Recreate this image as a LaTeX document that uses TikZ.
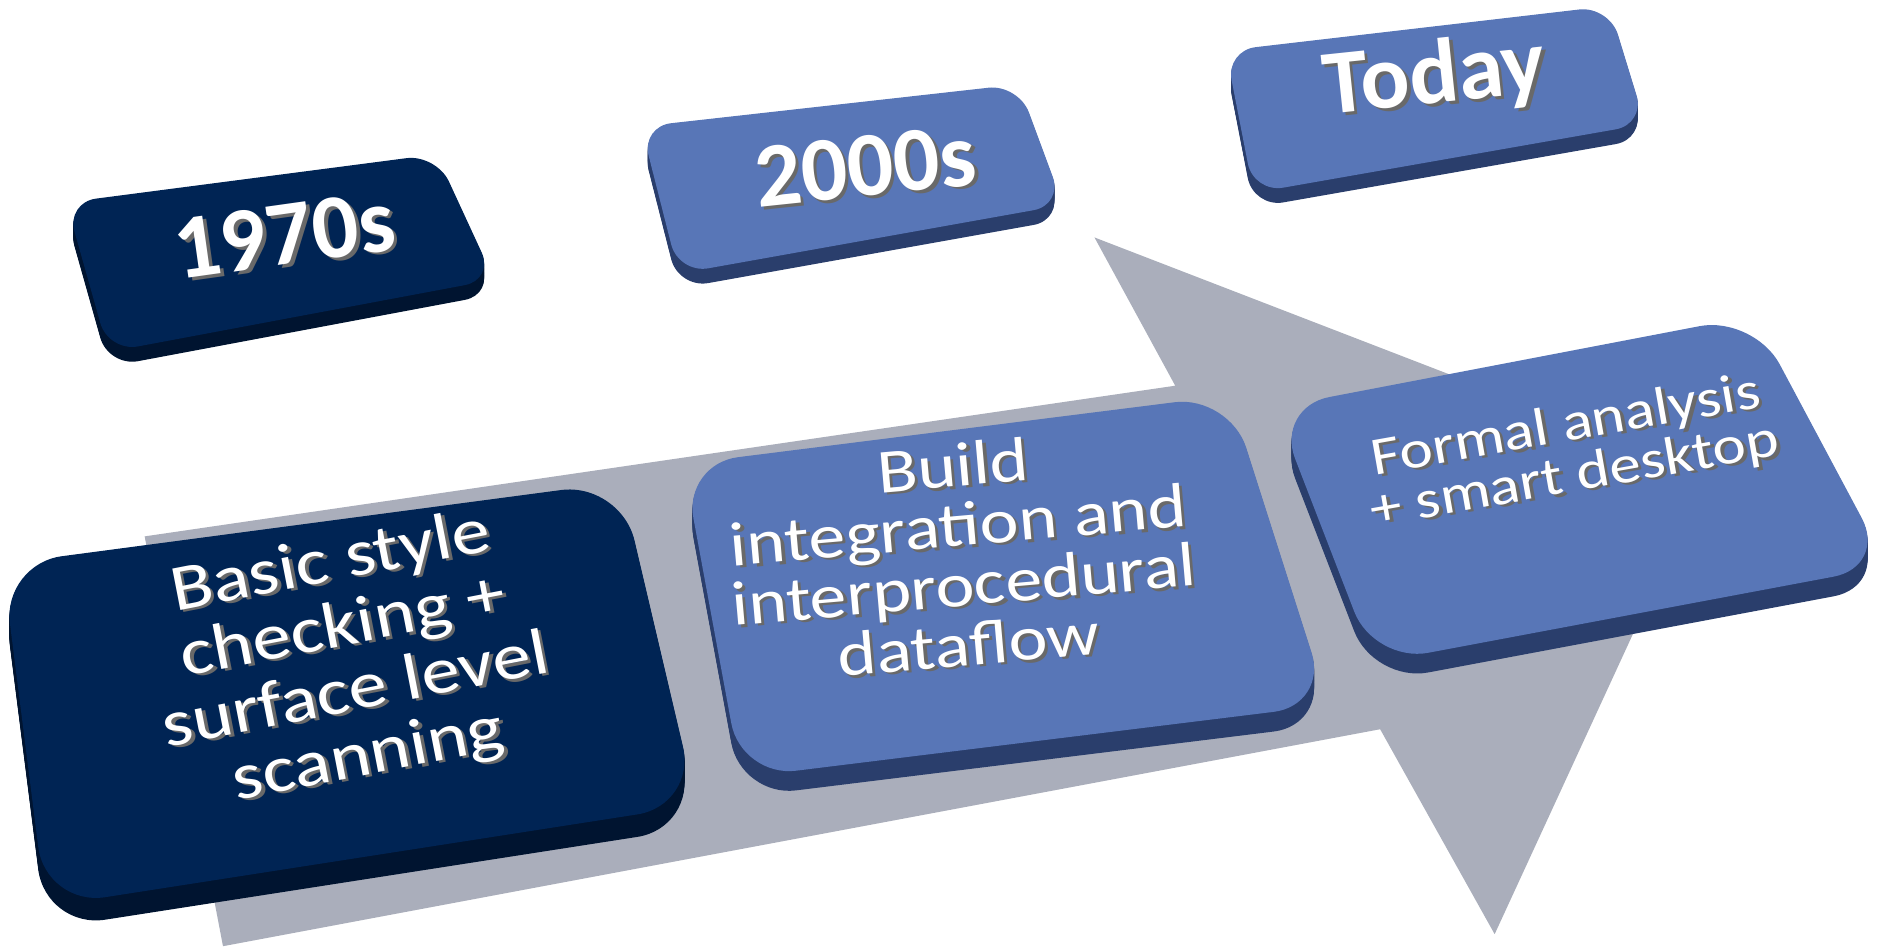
\documentclass[tikz,border=0pt]{standalone}
\usepackage{fontspec}
\setmainfont{Carlito}

\definecolor{navyface}{RGB}{0,36,84}
\definecolor{navyside}{RGB}{0,20,48}
\definecolor{blueface}{RGB}{88,118,183}
\definecolor{blueside}{RGB}{42,62,108}
\definecolor{arrowgray}{RGB}{170,174,187}
\definecolor{textshadow}{RGB}{105,105,105}

\begin{document}
\begin{tikzpicture}[x=0.012054cm, y=-0.012054cm,
  yearlabel/.style={font=\fontsize{26}{28}\selectfont\bfseries, text=white},
  steplabel/.style={align=center, text=white},
  shade/.style={text=textshadow, xshift=0.9pt, yshift=-0.9pt}]
  \useasboundingbox (0,0) rectangle (1568,789);

  % Big arrow behind the steps
  \fill[arrowgray] (120,445) -- (975,320) -- (908,197) -- (1416,393)
    -- (1240,775) -- (1145,605) -- (185,785) -- cycle;

  % Year tiles (side first, then the top face)
  \foreach \d in {1,...,12}
    \fill[navyside, rounded corners=0.3cm, yshift=-\d*0.35pt]
      (55,168) -- (362,128) -- (410,232) -- (90,292) -- cycle;
  \fill[navyface, rounded corners=0.3cm]
    (55,168) -- (362,128) -- (410,232) -- (90,292) -- cycle;

  \foreach \d in {1,...,12}
    \fill[blueside, rounded corners=0.3cm, yshift=-\d*0.35pt]
      (532,105) -- (845,70) -- (882,170) -- (563,227) -- cycle;
  \fill[blueface, rounded corners=0.3cm]
    (532,105) -- (845,70) -- (882,170) -- (563,227) -- cycle;

  \foreach \d in {1,...,12}
    \fill[blueside, rounded corners=0.3cm, yshift=-\d*0.35pt]
      (1017,42) -- (1335,5) -- (1365,103) -- (1040,160) -- cycle;
  \fill[blueface, rounded corners=0.3cm]
    (1017,42) -- (1335,5) -- (1365,103) -- (1040,160) -- cycle;

  % Step tiles on the arrow
  \foreach \d in {1,...,16}
    \fill[navyside, rounded corners=0.6cm, yshift=-\d*0.4pt]
      (2,468) -- (515,400) -- (578,668) -- (38,752) -- cycle;
  \fill[navyface, rounded corners=0.6cm]
    (2,468) -- (515,400) -- (578,668) -- (38,752) -- cycle;

  \foreach \d in {1,...,14}
    \fill[blueside, rounded corners=0.55cm, yshift=-\d*0.4pt]
      (567,385) -- (1020,328) -- (1102,585) -- (615,645) -- cycle;
  \fill[blueface, rounded corners=0.55cm]
    (567,385) -- (1020,328) -- (1102,585) -- (615,645) -- cycle;

  \foreach \d in {1,...,14}
    \fill[blueside, rounded corners=0.55cm, yshift=-\d*0.4pt]
      (1058,338) -- (1455,262) -- (1566,470) -- (1140,550) -- cycle;
  \fill[blueface, rounded corners=0.55cm]
    (1058,338) -- (1455,262) -- (1566,470) -- (1140,550) -- cycle;

  % Year labels
  \node[yearlabel, rotate=8, shade] (y1970-sh) at (236,195) {1970s};
  \node[yearlabel, rotate=8] (y1970) at (236,195) {1970s};
  \node[yearlabel, rotate=6, shade] (y2000-sh) at (718,138) {2000s};
  \node[yearlabel, rotate=6] (y2000) at (718,138) {2000s};
  \node[yearlabel, rotate=6, shade] (today-sh) at (1190,65) {Today};
  \node[yearlabel, rotate=6] (today) at (1190,65) {Today};

  % Step labels
  \node[steplabel, font=\fontsize{22}{22}\selectfont, rotate=11, yscale=0.85, shade]
    (basic-sh) at (290,548) {Basic style\\checking +\\surface level\\scanning};
  \node[steplabel, font=\fontsize{22}{22}\selectfont, rotate=11, yscale=0.85]
    (basic) at (290,548) {Basic style\\checking +\\surface level\\scanning};
  \node[steplabel, font=\fontsize{21}{20}\selectfont, rotate=5, yscale=0.85, shade]
    (build-sh) at (797,460) {Build\\integration and\\interprocedural\\dataflow};
  \node[steplabel, font=\fontsize{21}{20}\selectfont, rotate=5, yscale=0.85]
    (build) at (797,460) {Build\\integration and\\interprocedural\\dataflow};
  \node[steplabel, font=\fontsize{18}{17}\selectfont, rotate=10, yscale=0.85, shade]
    (formal-sh) at (1303,375) {Formal analysis\\+ smart desktop};
  \node[steplabel, font=\fontsize{18}{17}\selectfont, rotate=10, yscale=0.85]
    (formal) at (1303,375) {Formal analysis\\+ smart desktop};
\end{tikzpicture}
\end{document}
